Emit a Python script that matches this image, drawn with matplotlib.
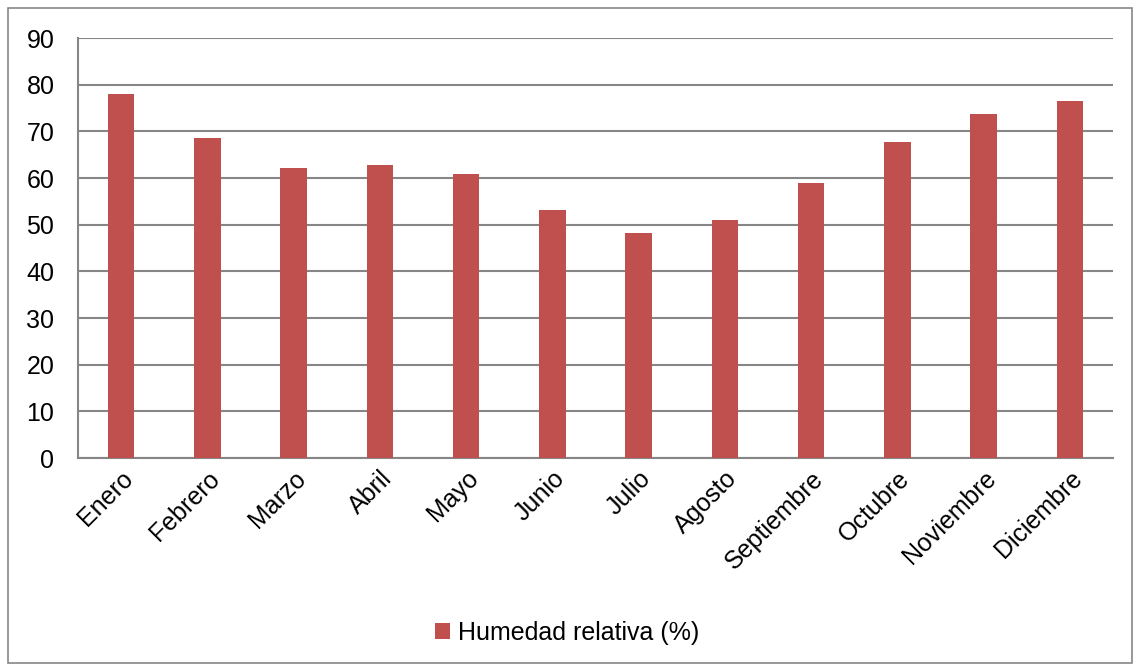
import matplotlib.pyplot as plt
import numpy as np
from matplotlib.patches import Rectangle

plt.rcParams['font.family'] = ['Liberation Sans', 'DejaVu Sans']

# Monthly data
meses = ["Enero", "Febrero", "Marzo", "Abril", "Mayo", "Junio", "Julio",
         "Agosto", "Septiembre", "Octubre", "Noviembre", "Diciembre"]
humedad = [78.0, 68.6, 62.1, 62.8, 60.9, 53.1, 48.3, 51.0, 58.9, 67.7, 73.8, 76.4]

fig = plt.figure(figsize=(11.34, 6.65), dpi=100)
ax = fig.add_axes([78 / 1134, 1 - 458 / 665, (1113 - 78) / 1134, (458 - 38) / 665])

# Outer chart border
fig.patches.append(Rectangle((8 / 1134, 2 / 665), 1124 / 1134, 655 / 665,
                             transform=fig.transFigure, fill=False,
                             edgecolor="#868686", linewidth=1.2))

x = np.arange(len(meses))
ax.bar(x, humedad, width=0.31, color="#C0504D", label="Humedad relativa (%)", zorder=3)

ax.set_xlim(-0.5, len(meses) - 0.5)
ax.set_ylim(0, 90)
ax.set_yticks(range(0, 91, 10))
ax.set_xticks(x)
ax.set_xticklabels(meses, rotation=45, ha="right", rotation_mode="anchor")
ax.tick_params(axis="both", labelsize=18, length=0, pad=6)
ax.tick_params(axis="y", pad=17)

ax.grid(axis="y", color="#868686", linewidth=1.5, zorder=0)
for s in ["top", "right"]:
    ax.spines[s].set_visible(False)
for s in ["left", "bottom"]:
    ax.spines[s].set_color("#868686")
    ax.spines[s].set_linewidth(1.5)

fig.legend(loc="center", bbox_to_anchor=(0.5, 1 - 633 / 665), frameon=False,
           fontsize=18, handlelength=0.6, handleheight=0.6, handletextpad=0.3)

fig.savefig("out.png", dpi=100)
